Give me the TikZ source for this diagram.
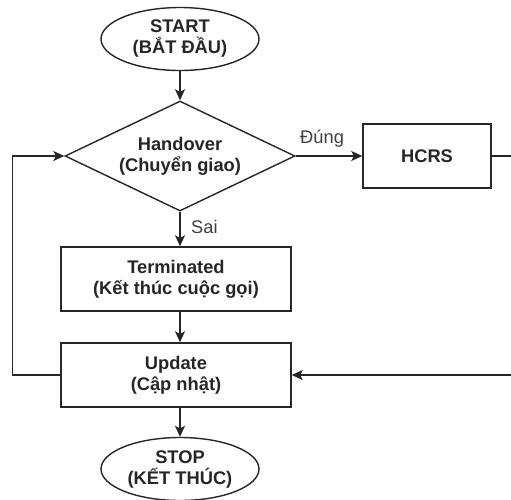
\documentclass[tikz,border=0pt]{standalone}
\usepackage{fontspec}
\setmainfont{Liberation Sans}
\usetikzlibrary{shapes.geometric,arrows.meta}
\begin{document}
\begin{tikzpicture}[x=1pt,y=-1pt,
  every node/.style={font=\fontsize{18.3}{21}\selectfont, text=black!85, align=center},
  box/.style={draw=black!85, line width=1.4pt, inner sep=0pt, font=\fontsize{18.3}{21}\selectfont\bfseries},
  termbox/.style={box, ellipse, minimum width=158pt, minimum height=63pt},
  procbox/.style={box, rectangle, minimum width=230pt, minimum height=64pt},
  decbox/.style={box, diamond, aspect=2.09, minimum width=230pt, minimum height=110pt},
  conn/.style={line width=1.4pt, draw=black!85, -{Stealth[length=11pt,width=10pt,inset=2.5pt]}},
  lbl/.style={text=black!75, inner sep=0pt}]
\useasboundingbox (0,0) rectangle (511,499);
\clip (0,0) rectangle (511,499);
\node[termbox] (start) at (180,39) {START\\(BẮT ĐẦU)};
\node[decbox] (ho) at (180,156) {Handover\\(Chuyển giao)};
\node[box, minimum width=128pt, minimum height=64pt] (hcrs) at (427,156) {HCRS};
\node[procbox] (term) at (176,279) {Terminated\\(Kết thúc cuộc gọi)};
\node[procbox] (upd) at (176,375) {Update\\(Cập nhật)};
\node[termbox] (stop) at (180,469) {STOP\\(KẾT THÚC)};
\node[lbl, anchor=base west] (sai) at (191,233) {Sai};
\node[lbl, anchor=base west] (dung) at (300,143) {Đúng};
\coordinate (r1) at (525,156);
\coordinate (r2) at (525,375);
\coordinate (l1) at (12.7,375);
\coordinate (l2) at (12.7,156);
\draw[conn] (start.south) -- (ho.north);
\draw[conn] (ho.south) -- (ho.south |- term.north);
\draw[conn] (ho.east) -- (hcrs.west);
\draw[conn] (term.south -| ho.south) -- (upd.north -| ho.south);
\draw[conn] (upd.south -| stop.north) -- (stop.north);
\draw[conn] (hcrs.east) -- (r1) -- (r2) -- (upd.east);
\draw[conn] (upd.west) -- (l1) -- (l2) -- (ho.west);
\end{tikzpicture}
\end{document}
